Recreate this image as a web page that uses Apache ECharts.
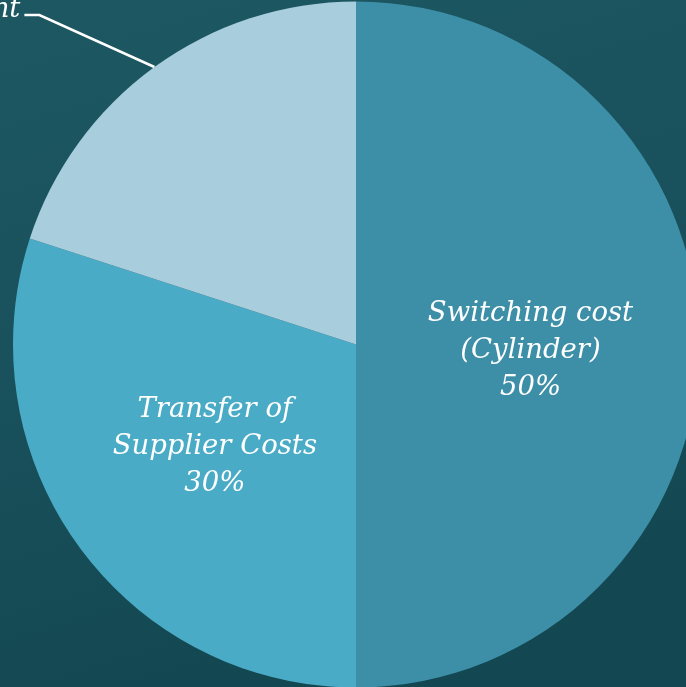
<!DOCTYPE html>
<html>
<head>
<meta charset="utf-8">
<script src="https://cdn.jsdelivr.net/npm/echarts@6/dist/echarts.min.js"></script>
<style>
html,body{margin:0;padding:0;width:686px;height:687px;overflow:hidden;background:#1a5560;}
#c{width:686px;height:687px;}
</style>
</head>
<body>
<div id="c"></div>
<script>
const categories = ['Switching cost\n(Cylinder)', 'Transfer of\nSupplier Costs', 'Investment'];
const shares = [50, 30, 20];
const sliceColors = ['#3d8fa7', '#4aabc6', '#a8cddc'];

const chart = echarts.init(document.getElementById('c'), null, {renderer: 'canvas'});
const FONT = "'DejaVu Serif', 'Liberation Serif', serif";

const data = categories.map((name, i) => {
  const item = {name: name, value: shares[i], itemStyle: {color: sliceColors[i]}};
  if (i === 2) {
    item.label = {
      position: 'outside',
      formatter: '{b}',
      color: '#ffffff'
    };
    item.labelLine = {show: true, lineStyle: {color: '#ffffff', width: 2.5}};
  }
  return item;
});

chart.setOption({
  backgroundColor: {
    type: 'linear', x: 0, y: 0, x2: 0.3, y2: 1,
    colorStops: [
      {offset: 0, color: '#1d5862'},
      {offset: 0.5, color: '#19515c'},
      {offset: 1, color: '#134852'}
    ]
  },
  animation: false,
  series: [{
    type: 'pie',
    center: [356, 344.5],
    radius: [0, 343],
    startAngle: 90,
    clockwise: true,
    avoidLabelOverlap: false,
    label: {
      show: true,
      position: 'inside',
      formatter: '{b}\n{d}%',
      color: '#ffffff',
      fontFamily: FONT,
      fontStyle: 'italic',
      fontSize: 27.5,
      lineHeight: 37,
      align: 'center'
    },
    labelLine: {show: false},
    labelLayout: function (params) {
      if (params.dataIndex === 0) return {dy: 6};
      if (params.dataIndex !== 2 || !params.labelLinePoints) return {};
      const p0 = params.labelLinePoints[0];
      const p1 = [p0[0] - 115, p0[1] - 52];
      const p2 = [p1[0] - 15, p1[1]];
      return {
        x: p2[0] - 4,
        y: p2[1] - 5,
        align: 'right',
        verticalAlign: 'middle',
        labelLinePoints: [p0, p1, p2]
      };
    },
    data: data
  }]
});
</script>
</body>
</html>
